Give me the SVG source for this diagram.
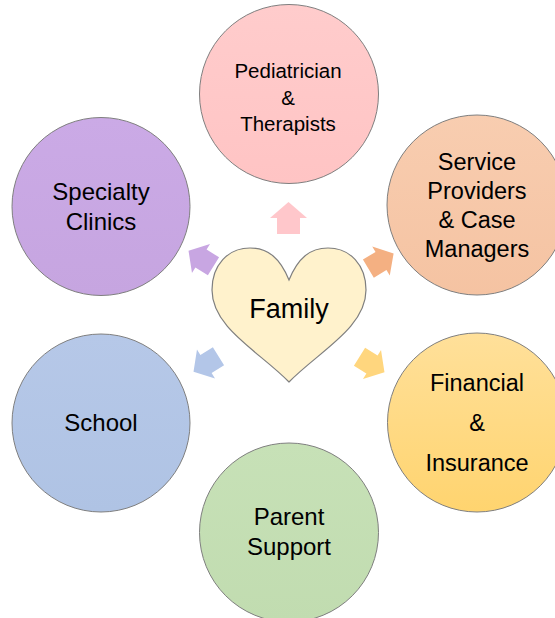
<svg xmlns="http://www.w3.org/2000/svg" width="555" height="618" viewBox="0 0 555 618">
<style>
.c{stroke:#7f7f7f;stroke-width:1}
.t{font-family:"Liberation Sans",Arial,sans-serif;fill:#000;text-anchor:middle}
.a{stroke:none}
</style>
<defs>
<path id="arr" d="M16,0 L0,-18.5 L0,-11.5 L-16,-11.5 L-16,11.5 L0,11.5 L0,18.5 Z"/>
<linearGradient id="gPink" x1="0" y1="0" x2="0" y2="1"><stop offset="0" stop-color="#ffcccc"/><stop offset="1" stop-color="#ffc4c4"/></linearGradient>
<linearGradient id="gOrange" x1="0" y1="0" x2="0" y2="1"><stop offset="0" stop-color="#f8cdb0"/><stop offset="1" stop-color="#f5c3a2"/></linearGradient>
<linearGradient id="gPurple" x1="0" y1="0" x2="0" y2="1"><stop offset="0" stop-color="#cbaae6"/><stop offset="1" stop-color="#c6a5e0"/></linearGradient>
<linearGradient id="gYellow" x1="0" y1="0" x2="0" y2="1"><stop offset="0" stop-color="#ffe09a"/><stop offset="1" stop-color="#ffd46f"/></linearGradient>
<linearGradient id="gBlue" x1="0" y1="0" x2="0" y2="1"><stop offset="0" stop-color="#b6c8e8"/><stop offset="1" stop-color="#afc3e4"/></linearGradient>
<linearGradient id="gGreen" x1="0" y1="0" x2="0" y2="1"><stop offset="0" stop-color="#c7e1b7"/><stop offset="1" stop-color="#c1dcb0"/></linearGradient>
</defs>
<rect width="555" height="618" fill="#ffffff"/>

<g id="connectors">
<use href="#arr" fill="#ffc7cb" transform="translate(288.5,218) rotate(-90)"/>
<use href="#arr" fill="#c8a6e2" transform="translate(201,258.5) rotate(-148) scale(0.92)"/>
<use href="#arr" fill="#f4b082" transform="translate(381,261) rotate(-31) scale(0.92)"/>
<use href="#arr" fill="#b3c6e8" transform="translate(206,364) rotate(148) scale(0.92)"/>
<use href="#arr" fill="#ffd67e" transform="translate(372,364.5) rotate(32) scale(0.92)"/>
</g>

<g id="pediatrician">
<circle class="c" cx="289" cy="94" r="89.5" fill="url(#gPink)"/>
<text class="t" x="288" y="78" font-size="20.5">Pediatrician</text>
<text class="t" x="288" y="105" font-size="20.5">&amp;</text>
<text class="t" x="288" y="131" font-size="20.5">Therapists</text>
</g>

<g id="service">
<circle class="c" cx="477" cy="205" r="90" fill="url(#gOrange)"/>
<text class="t" x="477" y="170" font-size="23.5">Service</text>
<text class="t" x="477" y="199" font-size="23.5">Providers</text>
<text class="t" x="477" y="228" font-size="23.5">&amp; Case</text>
<text class="t" x="477" y="257" font-size="23.5">Managers</text>
</g>

<g id="specialty">
<circle class="c" cx="101" cy="206.5" r="89" fill="url(#gPurple)"/>
<text class="t" x="101" y="200" font-size="24">Specialty</text>
<text class="t" x="101" y="230" font-size="24">Clinics</text>
</g>

<g id="financial">
<circle class="c" cx="477" cy="422.5" r="89.5" fill="url(#gYellow)"/>
<text class="t" x="477" y="391" font-size="23.5">Financial</text>
<text class="t" x="477" y="431" font-size="23.5">&amp;</text>
<text class="t" x="477" y="471" font-size="23.5">Insurance</text>
</g>

<g id="school">
<circle class="c" cx="101" cy="423" r="89" fill="url(#gBlue)"/>
<text class="t" x="101" y="431" font-size="24">School</text>
</g>

<g id="parent">
<circle class="c" cx="289" cy="532.5" r="89.5" fill="url(#gGreen)"/>
<text class="t" x="289" y="525" font-size="24">Parent</text>
<text class="t" x="289" y="555" font-size="24">Support</text>
</g>

<g id="family">
<path d="M289,280 C298,258 310,248 328,248 C350,248 366,265 366,290 C366,328 318,352 289,382 C260,352 212,328 212,290 C212,265 228,248 250,248 C268,248 280,258 289,280 Z" fill="#fff2cc" stroke="#7f7f7f" stroke-width="1.2"/>
<text class="t" x="289" y="318" font-size="27">Family</text>
</g>
</svg>
